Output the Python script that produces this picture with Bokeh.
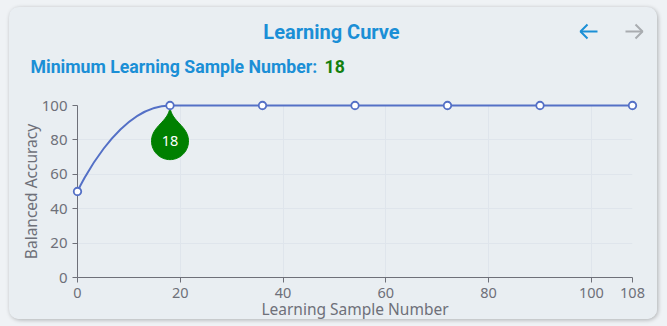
import math
from bokeh.plotting import figure
from bokeh.models import Range1d, FixedTicker, ColumnDataSource
from bokeh.layouts import column
from bokeh.core.properties import value
from bokeh.embed import file_html
from bokeh.resources import INLINE

# ---------------- data ----------------
sample_numbers = [0, 18, 36, 54, 72, 90, 108]
balanced_accuracy = [50, 100, 100, 100, 100, 100, 100]
x_ticks = [0, 20, 40, 60, 80, 100, 108]
y_ticks = [0, 20, 40, 60, 80, 100]
title_text = "Learning Curve"
subtitle_text = "Minimum Learning Sample Number:"
x_label = "Learning Sample Number"
y_label = "Balanced Accuracy"

best = max(balanced_accuracy)
min_sample = sample_numbers[balanced_accuracy.index(best)]

# ---------------- style ----------------
OUTER = "#eff2f5"
CARD = "#e9eef2"
BLUE = "#1b8fd6"
GRAY_ICON = "#a9acb0"
GREEN_TXT = "#13800f"
PIN = "#008000"
LINE = "#5470c6"
AXIS = "#6e7079"
GRID = "#dfe5ec"
CARD_W = 648
HEAD_H = 88
FRAME_W, FRAME_H = 555, 172
MB_L, MB_R, MB_T, MB_B = 68, 25, 10, 42

# ---------------- header ----------------
# header frame shares the chart's horizontal borders; its x range maps 1:1 to card pixels
header = figure(width=CARD_W, height=HEAD_H, x_range=Range1d(MB_L, MB_L + FRAME_W),
                y_range=Range1d(HEAD_H, 0), toolbar_location=None,
                output_backend="svg", x_axis_location=None, y_axis_location=None,
                min_border_left=MB_L, min_border_right=MB_R,
                min_border_top=0, min_border_bottom=0)
header.grid.visible = False
header.outline_line_color = None
header.background_fill_color = CARD
header.border_fill_color = CARD

header.text(x=[322], y=[24], text=[title_text], text_align="center",
            text_baseline="middle", text_font=value("Roboto"),
            text_font_style="bold", text_font_size="20px", text_color=BLUE,
            level="overlay")
header.text(x=[21], y=[59], text=[subtitle_text], text_align="left",
            text_baseline="middle", text_font=value("Roboto"),
            text_font_style="bold", text_font_size="17.7px", text_color=BLUE,
            level="overlay")
header.text(x=[315], y=[59], text=[str(min_sample)], text_align="left",
            text_baseline="middle", text_font=value("Roboto"),
            text_font_style="bold", text_font_size="17.7px", text_color=GREEN_TXT,
            level="overlay")
# arrow icons
header.multi_line(xs=[[571, 588], [578, 571, 578]], ys=[[24, 24], [17, 24, 31]],
                  line_color=BLUE, line_width=2, level="overlay")
header.multi_line(xs=[[616, 633], [626, 633, 626]], ys=[[24, 24], [17, 24, 31]],
                  line_color=GRAY_ICON, line_width=2, level="overlay")

# ---------------- chart ----------------
x0, x1 = 0, 108
y0, y1 = 0, 100
p = figure(width=MB_L + FRAME_W + MB_R, height=MB_T + FRAME_H + MB_B,
           x_range=Range1d(x0, x1), y_range=Range1d(y0, y1),
           toolbar_location=None, output_backend="svg",
           min_border_left=MB_L, min_border_right=MB_R,
           min_border_top=MB_T, min_border_bottom=MB_B)
p.outline_line_color = None
p.background_fill_color = CARD
p.border_fill_color = CARD

p.xaxis.ticker = FixedTicker(ticks=x_ticks)
p.yaxis.ticker = FixedTicker(ticks=y_ticks)
p.xgrid.ticker = FixedTicker(ticks=x_ticks)
p.ygrid.ticker = FixedTicker(ticks=y_ticks)
p.grid.grid_line_color = GRID
p.grid.grid_line_width = 1

p.yaxis.axis_label = y_label
p.axis.axis_line_color = AXIS
p.axis.major_tick_line_color = AXIS
p.axis.minor_tick_line_color = None
p.axis.major_tick_in = 0
p.axis.major_tick_out = 5
p.axis.major_label_standoff = 5
p.axis.major_label_text_color = AXIS
p.axis.major_label_text_font = "Noto Sans"
p.axis.major_label_text_font_size = "14.5px"
p.yaxis.major_label_text_font_size = "15px"
p.axis.axis_label_text_color = AXIS
p.axis.axis_label_text_font = "Noto Sans"
p.axis.axis_label_text_font_style = "normal"
p.axis.axis_label_text_font_size = "15.5px"
p.yaxis.axis_label_standoff = -3

# x axis title, centred under the axis
p.text(x=[(x0 + x1) / 2], y=[y0], text=[x_label], y_offset=31,
       text_align="center", text_baseline="middle", text_font=value("Noto Sans"),
       text_font_size="15.5px", text_color=AXIS, level="overlay")

# smooth line (ECharts-style smoothing computed in pixel space)
sx = FRAME_W / (x1 - x0)
sy = FRAME_H / (y1 - y0)
px = [(v - x0) * sx for v in sample_numbers]
py = [-(v - y0) * sy for v in balanced_accuracy]


def smooth_segments(px, py, smooth=0.5):
    segs = []
    n = len(px)
    cpx0, cpy0 = px[0], py[0]
    for i in range(1, n):
        x, y = px[i], py[i]
        prx, pry = px[i - 1], py[i - 1]
        if i == n - 1:
            cpx1, cpy1 = x, y
            ncx, ncy = x, y
        else:
            nx_, ny_ = px[i + 1], py[i + 1]
            vx, vy = nx_ - prx, ny_ - pry
            lp = math.hypot(x - prx, y - pry)
            ln = math.hypot(nx_ - x, ny_ - y)
            ratio = ln / (ln + lp)
            ncx = x + vx * smooth * ratio
            ncy = y + vy * smooth * ratio
            ncx = max(min(ncx, max(nx_, x)), min(nx_, x))
            ncy = max(min(ncy, max(ny_, y)), min(ny_, y))
            vx, vy = ncx - x, ncy - y
            cpx1 = x - vx * lp / ln
            cpy1 = y - vy * lp / ln
            cpx1 = max(min(cpx1, max(prx, x)), min(prx, x))
            cpy1 = max(min(cpy1, max(pry, y)), min(pry, y))
            vx, vy = x - cpx1, y - cpy1
            ncx = x + vx * ln / lp
            ncy = y + vy * ln / lp
        segs.append((prx, pry, x, y, cpx0, cpy0, cpx1, cpy1))
        cpx0, cpy0 = ncx, ncy
    return segs


segs = smooth_segments(px, py)
to_dx = lambda v: v / sx + x0
to_dy = lambda v: -v / sy + y0
bez = ColumnDataSource(dict(
    x0=[to_dx(s[0]) for s in segs], y0=[to_dy(s[1]) for s in segs],
    x1=[to_dx(s[2]) for s in segs], y1=[to_dy(s[3]) for s in segs],
    cx0=[to_dx(s[4]) for s in segs], cy0=[to_dy(s[5]) for s in segs],
    cx1=[to_dx(s[6]) for s in segs], cy1=[to_dy(s[7]) for s in segs],
))
p.bezier(x0="x0", y0="y0", x1="x1", y1="y1", cx0="cx0", cy0="cy0",
         cx1="cx1", cy1="cy1", source=bez, line_color=LINE, line_width=2,
         level="overlay")

# pin marker (ECharts 'pin', rotated), built as pixel offsets from its tip
r, h = 18.5, 62.0
dy = r * r / (h - r)
c_off = h - r - dy
ang = math.asin(dy / r)
dxp = math.cos(ang) * r
tanX, tanY = math.sin(ang), math.cos(ang)
cpl, cpl2 = r * 0.6, r * 0.7


def cubic(p0, p1, p2, p3, n=14):
    out = []
    for k in range(1, n + 1):
        t = k / n
        a, b, c, d = (1 - t) ** 3, 3 * (1 - t) ** 2 * t, 3 * (1 - t) * t * t, t ** 3
        out.append((a * p0[0] + b * p1[0] + c * p2[0] + d * p3[0],
                    a * p0[1] + b * p1[1] + c * p2[1] + d * p3[1]))
    return out


pts = []
n_arc = 48
for k in range(n_arc + 1):
    th = -ang + (math.pi + 2 * ang) * k / n_arc
    pts.append((r * math.cos(th), c_off + r * math.sin(th)))
tl = (-dxp, c_off - dy)
tr = (dxp, c_off - dy)
pts += cubic(tl, (-dxp + tanX * cpl, c_off - dy - tanY * cpl), (0, cpl2), (0, 0))
pts += cubic((0, 0), (0, cpl2), (dxp - tanX * cpl, c_off - dy - tanY * cpl), tr)
pin_x = [min_sample + ox / sx for ox, oy in pts]
pin_y = [best - oy / sy for ox, oy in pts]
p.patch(pin_x, pin_y, fill_color=PIN, line_color=PIN, line_width=1, level="overlay")

p.scatter(sample_numbers, balanced_accuracy, marker="circle", size=7.5,
          fill_color="#ffffff", line_color=LINE, line_width=1.8, level="overlay")

p.text(x=[min_sample], y=[best], text=[str(min_sample)], y_offset=c_off,
       text_align="center", text_baseline="middle", text_font=value("Noto Sans"),
       text_font_size="14.5px", text_color="#ffffff", level="overlay")

card = column(header, p, margin=(7, 10, 7, 9),
              styles={"border-radius": "10px", "overflow": "hidden",
                      "background-color": CARD,
                      "box-shadow": "1px 1px 4px rgba(0,0,0,0.28)"})
page = column(card, width=667, height=326, styles={"background-color": OUTER})

open("out.html", "w").write(file_html(page, INLINE))
